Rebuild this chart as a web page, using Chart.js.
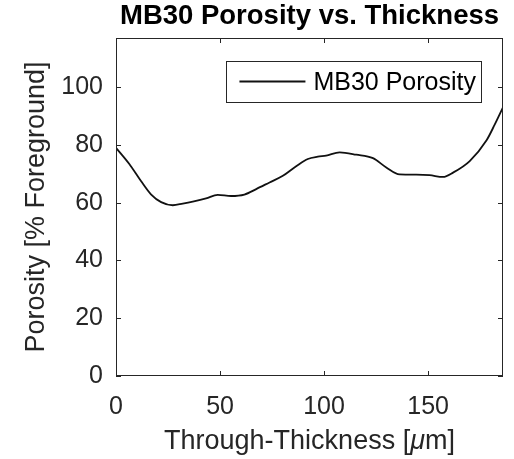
<!DOCTYPE html>
<html><head><meta charset="utf-8">
<script src="https://cdn.jsdelivr.net/npm/chart.js@4/dist/chart.umd.min.js"></script>
<style>html,body{margin:0;padding:0;background:#fff;}#wrap{width:514px;height:459px;}</style>
</head><body><div id="wrap"><canvas id="c" width="514" height="459"></canvas></div>
<script>
// ---- data ----
const thickness = [0, 6.4, 12.0, 16.8, 21.7, 27.3, 32.1, 36.9, 43.3, 48.9, 55.3, 61.7, 67.4, 73.8, 80.2, 86.6, 92.2, 97.0, 101.0, 107.5, 115.5, 123.5, 129.9, 136.3, 144.3, 150.7, 157.2, 162.0, 170.0, 178.1, 182.0, 186.0];
const porosity  = [79.0, 73.4, 67.5, 62.9, 60.2, 59.1, 59.7, 60.4, 61.5, 62.7, 62.3, 62.8, 64.7, 67.0, 69.3, 72.6, 75.1, 75.9, 76.3, 77.4, 76.6, 75.4, 72.2, 69.8, 69.7, 69.5, 68.9, 70.4, 74.4, 81.6, 87.0, 93.0];
const xTicks = [0, 50, 100, 150];
const yTicks = [0, 20, 40, 60, 80, 100];
const xRange = [0, 186];
const yRange = [0, 117];
const seriesLabel = 'MB30 Porosity';
const titleText = 'MB30 Porosity vs. Thickness';
const xTitleParts = [['Through-Thickness [', false], ['\u03BC', true], ['m]', false]];
const yTitleText = 'Porosity [% Foreground]';

const FONT = '"Liberation Sans", Arial, Helvetica, sans-serif';
const AX = '#262626';

const boxPlugin = {
  id: 'matlabBox',
  afterDatasetsDraw(chart) {
    const {ctx, chartArea: a, scales: {x, y}} = chart;
    ctx.save();
    ctx.strokeStyle = AX;
    ctx.lineWidth = 1;
    ctx.strokeRect(a.left + 0.5, a.top + 0.5, a.right - a.left - 1, a.bottom - a.top - 1);
    const L = 5;
    ctx.beginPath();
    xTicks.forEach(v => {
      const px = Math.round(x.getPixelForValue(v)) + 0.5;
      ctx.moveTo(px, a.bottom); ctx.lineTo(px, a.bottom - L);
      ctx.moveTo(px, a.top); ctx.lineTo(px, a.top + L);
    });
    yTicks.forEach(v => {
      const py = Math.round(y.getPixelForValue(v)) + 0.5;
      ctx.moveTo(a.left, py); ctx.lineTo(a.left + L, py);
      ctx.moveTo(a.right, py); ctx.lineTo(a.right - L, py);
    });
    ctx.stroke();

    // x axis title with italic mu (TeX style)
    const fN = '27px ' + FONT, fI = 'italic 27px ' + FONT;
    let total = 0;
    const widths = xTitleParts.map(([t, it]) => { ctx.font = it ? fI : fN; const w = ctx.measureText(t).width; total += w; return w; });
    let tx = (a.left + a.right) / 2 - total / 2;
    const ty = chart.height - 1 - 16.2;
    ctx.fillStyle = AX;
    ctx.textBaseline = 'middle';
    ctx.textAlign = 'left';
    xTitleParts.forEach(([t, it], i) => { ctx.font = it ? fI : fN; ctx.fillText(t, tx, ty); tx += widths[i]; });

    // legend box (inside, north-east)
    const ds = chart.data.datasets[0];
    ctx.font = '25px ' + FONT;
    const tw = ctx.measureText(ds.label).width;
    const padL = 13, lineLen = 66, gap = 8, padR = 5;
    const w = padL + lineLen + gap + tw + padR;
    const h = 41;
    const right = a.right - 22, top = a.top + 23;
    const left = right - w;
    ctx.fillStyle = '#fff';
    ctx.fillRect(left, top, w, h);
    ctx.strokeStyle = AX;
    ctx.lineWidth = 1;
    ctx.strokeRect(Math.round(left) + 0.5, Math.round(top) + 0.5, Math.round(w), h);
    const cy = top + h / 2;
    ctx.strokeStyle = ds.borderColor;
    ctx.lineWidth = ds.borderWidth;
    ctx.beginPath();
    ctx.moveTo(left + padL, cy); ctx.lineTo(left + padL + lineLen, cy);
    ctx.stroke();
    ctx.fillStyle = '#000';
    ctx.fillText(ds.label, left + padL + lineLen + gap, cy + 1.5);
    ctx.restore();
  }
};

new Chart(document.getElementById('c'), {
  type: 'line',
  data: {
    datasets: [{
      label: seriesLabel,
      data: thickness.map((t, i) => ({x: t, y: porosity[i]})),
      borderColor: '#111',
      borderWidth: 1.8,
      pointRadius: 0,
      fill: false,
      cubicInterpolationMode: 'monotone'
    }]
  },
  options: {
    responsive: false,
    devicePixelRatio: 1,
    animation: false,
    layout: {padding: {top: 0, right: 11, left: 0, bottom: 0}},
    plugins: {
      legend: {display: false},
      tooltip: {enabled: false},
      title: {
        display: true, text: titleText, fullSize: false,
        color: '#000',
        font: {family: FONT, size: 27.5, weight: 'bold', lineHeight: 1.2},
        padding: {top: 0, bottom: 5}
      }
    },
    scales: {
      x: {
        type: 'linear', min: xRange[0], max: xRange[1],
        grid: {display: false, drawTicks: false},
        border: {display: false},
        afterFit(s) { s.height = 83; },
        afterBuildTicks(s) { s.ticks = xTicks.map(v => ({value: v})); },
        ticks: {color: AX, padding: 16, font: {family: FONT, size: 25}, maxRotation: 0, autoSkip: false},
        title: {display: false}
      },
      y: {
        type: 'linear', min: yRange[0], max: yRange[1],
        grid: {display: false, drawTicks: false},
        border: {display: false},
        afterFit(s) { s.width = 116; },
        afterBuildTicks(s) { s.ticks = yTicks.map(v => ({value: v})); },
        ticks: {color: AX, padding: 13, font: {family: FONT, size: 25}, autoSkip: false},
        title: {display: true, text: yTitleText, color: AX, font: {family: FONT, size: 27}, padding: {top: 20, bottom: 0}}
      }
    }
  },
  plugins: [boxPlugin]
});
</script>
</body></html>
